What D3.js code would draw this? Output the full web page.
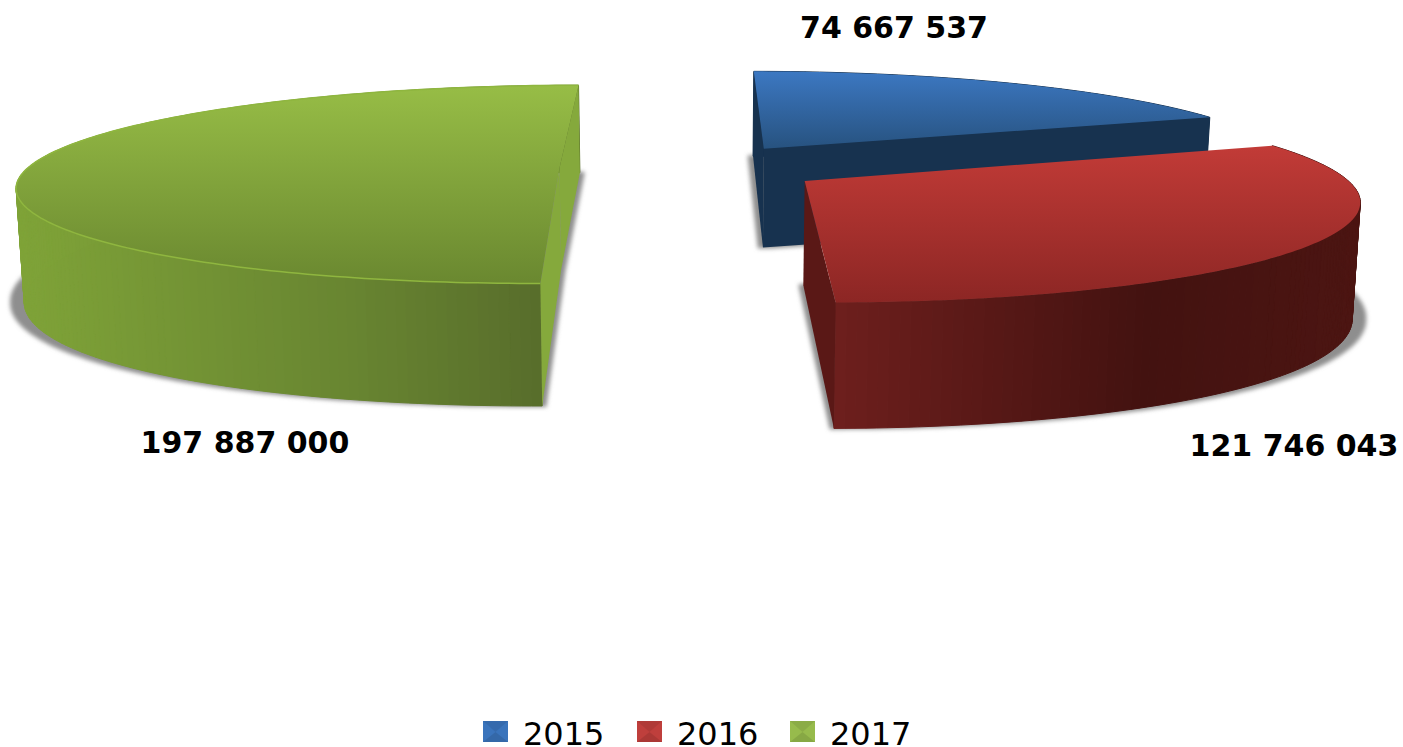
<!DOCTYPE html>
<html>
<head>
<meta charset="utf-8">
<title>Exploded 3D pie</title>
<script src="https://cdnjs.cloudflare.com/ajax/libs/d3/7.8.5/d3.min.js"></script>
<style>
  html, body { margin: 0; padding: 0; background: #fff; overflow: hidden; }
  svg { display: block; }
</style>
</head>
<body>
<div id="chart"></div>
<script>
// Chart data
const years = ['2015', '2016', '2017'];
const amounts = [74667537, 121746043, 197887000];

// Colours per year: top gradient, wall shading left to right, cut face
const topFrom = ['#3c78c2', '#c23b37', '#97bd46'];
const topTo = ['#27527f', '#8c2624', '#6a8830'];
const wallFrom = ['#17324f', '#6e1f1d', '#7fa338'];
const wallMid = ['#17324f', '#431210', '#688531'];
const wallTo = ['#17324f', '#4c1512', '#55692a'];
const cutColor = ['#17324f', '#5a1816', '#85a93c'];
const legendColor = ['#3a74bc', '#bf3f3c', '#97bb4c'];

// Label anchors (centre x, baseline y)
const labelX = [894, 1294, 245];
const labelY = [38, 456, 453];
const legendX = [483, 637, 790];

const width = 1403;
const height = 747;

// Perspective camera fitted to the picture
const vanishX = 692;
const vanishY = -407;
const scaleX = 545;
const planeDist = 574.6;
const perspective = 0.1675;
const wallHeight = 102;
const wallBulge = 0.08;
const wallTilt = 0.012;
const radiusX = 0.975;
const explode = 0.243;

const svg = d3.select('#chart').append('svg')
  .attr('width', width)
  .attr('height', height);

const defs = svg.append('defs');

// Shadow: spreads sideways much more than down, then blurs
const soft = defs.append('filter')
  .attr('id', 'soft')
  .attr('x', '-5%').attr('y', '-10%').attr('width', '110%').attr('height', '120%');
soft.append('feMorphology')
  .attr('operator', 'dilate')
  .attr('radius', '6 1');
soft.append('feGaussianBlur')
  .attr('stdDeviation', 2.2);

// d3 angles run clockwise from 12 o'clock, same as the chart
const slices = d3.pie().sort(null).value(d => d)(amounts);

// World point on the pie (angle, radius) to screen, h = 0 top, h = 1 bottom
function project(slice, angle, radius, h, tilt = wallTilt) {
  const mid = (slice.startAngle + slice.endAngle) / 2;
  const sin = Math.sin(angle);
  const wx = explode * Math.sin(mid) + radius * radiusX * sin;
  const wz = explode * Math.cos(mid) + radius * Math.cos(angle);
  const w = 1 + perspective * wz;
  const bulge = 1 + wallBulge * radius * sin * sin;
  return [
    vanishX + (scaleX * wx / w) * (1 - tilt * h),
    vanishY + planeDist / w + h * wallHeight * bulge / w
  ];
}

const line = d3.line();

function arcPoints(slice, radius, h, tilt) {
  const n = Math.ceil((slice.endAngle - slice.startAngle) * 60);
  return d3.range(n + 1).map(i => {
    const a = slice.startAngle + (slice.endAngle - slice.startAngle) * i / n;
    return project(slice, a, radius, h, tilt);
  });
}

function facePath(slice, radius, h, tilt) {
  return line([project(slice, 0, 0, h, tilt), ...arcPoints(slice, radius, h, tilt)]) + 'Z';
}

function cutPath(slice, angle) {
  return line([
    project(slice, 0, 0, 0),
    project(slice, angle, 1, 0),
    project(slice, angle, 1, 1),
    project(slice, 0, 0, 1)
  ]) + 'Z';
}

function addGradient(id, colors) {
  const g = defs.append('linearGradient')
    .attr('id', id)
    .attr('x1', 0).attr('y1', 0)
    .attr('x2', 0).attr('y2', 1);
  colors.forEach((c, k) => {
    g.append('stop')
      .attr('offset', (k / (colors.length - 1)) * 100 + '%')
      .attr('stop-color', c);
  });
}

// Painter order: blue at the back, then green, red in front
[0, 2, 1].forEach(i => {
  const s = slices[i];
  addGradient('top' + i, [topFrom[i], topTo[i]]);

  const g = svg.append('g').attr('class', 'slice-' + years[i]);

  // Soft shadow under the slice
  g.append('path')
    .attr('d', facePath(s, 1, 1, 0))
    .attr('fill', '#8e8e8e')
    .attr('filter', 'url(#soft)');

  // Outer wall as narrow strips, the reference shades it in vertical bands
  const upper = arcPoints(s, 1, 0);
  const lower = arcPoints(s, 1, 1);
  const xRange = d3.extent(upper, p => p[0]);
  const shade = d3.scaleLinear()
    .domain([xRange[0], xRange[0] + (xRange[1] - xRange[0]) * 0.6, xRange[1]])
    .range([wallFrom[i], wallMid[i], wallTo[i]]);

  g.append('g').selectAll('path')
    .data(d3.range(upper.length - 1))
    .join('path')
    .attr('d', k => line([upper[k], upper[k + 1], lower[k + 1], lower[k]]) + 'Z')
    .attr('fill', k => shade(upper[k][0]))
    .attr('stroke', k => shade(upper[k][0]))
    .attr('stroke-width', 1);

  // Cut faces that look at the camera
  if (i !== 1) {
    g.append('path').attr('d', cutPath(s, s.startAngle)).attr('fill', cutColor[i]);
  }
  g.append('path').attr('d', cutPath(s, s.endAngle)).attr('fill', cutColor[i]);

  g.append('path').attr('d', facePath(s, 1, 0)).attr('fill', `url(#top${i})`);

  // Thin light rim on the green slice
  if (i === 2) {
    g.append('path')
      .attr('d', line(upper))
      .attr('fill', 'none')
      .attr('stroke', '#8fb63f')
      .attr('stroke-width', 1.5);
  }
});

// Value labels, thousands split by a space
const spaced = d3.formatLocale({ decimal: '.', thousands: ' ', grouping: [3], currency: ['', ''] }).format(',d');

svg.append('g').selectAll('text')
  .data(amounts)
  .join('text')
  .attr('x', (d, i) => labelX[i])
  .attr('y', (d, i) => labelY[i])
  .attr('text-anchor', 'middle')
  .attr('font-family', '"DejaVu Sans", sans-serif')
  .attr('font-weight', 700)
  .attr('font-size', 30)
  .attr('fill', '#000')
  .text(d => spaced(d));

// Legend
const legend = svg.append('g').selectAll('g')
  .data(years)
  .join('g')
  .attr('transform', (d, i) => `translate(${legendX[i]},721)`);

legend.append('rect')
  .attr('width', 25).attr('height', 21)
  .attr('fill', (d, i) => legendColor[i]);

legend.append('path')
  .attr('d', 'M0,0L25,0L12.5,11Z')
  .attr('fill', '#000')
  .attr('opacity', 0.08);

legend.append('path')
  .attr('d', 'M0,21L25,21L12.5,11Z')
  .attr('fill', '#000')
  .attr('opacity', 0.1);

legend.append('text')
  .attr('x', 40)
  .attr('y', 24)
  .attr('font-family', '"DejaVu Sans", sans-serif')
  .attr('font-size', 32)
  .attr('fill', '#000')
  .text(d => d);
</script>
</body>
</html>
